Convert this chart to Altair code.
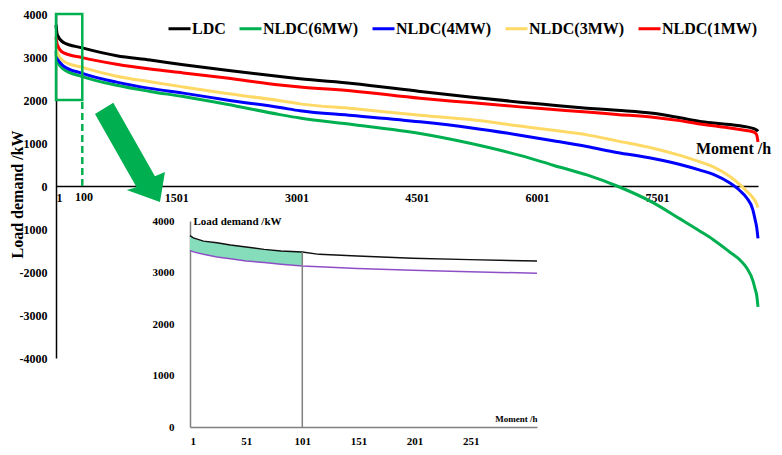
import altair as alt
import pandas as pd

FONT = "Liberation Serif"

# ---------------- data: main load duration curves ----------------
hours = [1, 17, 92, 329, 758, 1174, 1589, 2131, 2795, 3044, 3700, 4543, 5166, 5790,
         6205, 6625, 7000, 7450, 7787, 8036, 8203, 8410, 8535, 8618, 8697, 8722, 8745, 8760]
ldc = [3750, 3515, 3340, 3212, 3030, 2930, 2820, 2690, 2545, 2492, 2385, 2200, 2070, 1950,
       1880, 1810, 1760, 1690, 1585, 1500, 1465, 1430, 1400, 1375, 1340, 1320, 1300, 1270]
nldc_1mw = [3460, 3288, 3100, 2985, 2833, 2720, 2630, 2510, 2350, 2303, 2210, 2040, 1940, 1840,
            1780, 1720, 1665, 1600, 1520, 1440, 1400, 1350, 1315, 1290, 1260, 1240, 1180, 1023]
nldc_3mw = [3250, 3098, 2909, 2758, 2553, 2424, 2303, 2150, 1985, 1910, 1800, 1644, 1545, 1394,
            1295, 1189, 1050, 879, 711, 560, 447, 220, 30, -120, -273, -340, -420, -500]
nldc_4mw = [3136, 2985, 2795, 2621, 2416, 2270, 2160, 2000, 1825, 1750, 1640, 1493, 1356, 1182,
            1053, 917, 780, 640, 500, 370, 270, 68, -110, -273, -560, -765, -980, -1220]
nldc_6mw = [3061, 2900, 2720, 2545, 2341, 2200, 2080, 1900, 1660, 1580, 1430, 1220, 993, 711,
            484, 257, 0, -386, -765, -1050, -1250, -1540, -1720, -1902, -2205, -2380, -2560, -2811]

series_names = ["LDC", "NLDC(6MW)", "NLDC(4MW)", "NLDC(3MW)", "NLDC(1MW)"]
series_colors = ["#000000", "#00B050", "#0000FF", "#FFD966", "#FF0000"]

x_tick_values = [1, 1501, 3001, 4501, 6001, 7501]
y_tick_values = [-4000, -3000, -2000, -1000, 0, 1000, 2000, 3000, 4000]

# ---------------- data: inset (first ~300 hours) ----------------
ins_hours = [1, 4, 13, 25, 37, 51, 67, 82, 101, 116, 150, 199, 250, 310]
ins_ldc = [3718, 3673, 3609, 3577, 3532, 3494, 3449, 3417, 3397, 3352, 3321, 3276, 3250, 3224]
ins_nldc = [3429, 3400, 3353, 3301, 3269, 3224, 3192, 3160, 3128, 3110, 3077, 3045, 3013, 2987]
ins_x_ticks = [1, 51, 101, 151, 201, 251]
ins_y_ticks = [0, 1000, 2000, 3000, 4000]
ins_cut_hour = 101

# ---------------- annotations (in data units) ----------------
zoom_box = pd.DataFrame([{"hour": 1, "hour2": 329, "load": 2000, "load2": 4000}])
dash_line = pd.DataFrame([{"hour": 329, "load": 0, "load2": 2000}])
label_100 = pd.DataFrame([{"hour": 350, "load": 0, "text": "100"}])
arrow_pos = pd.DataFrame([{"hour": 924, "load": 790}])
ARROW = ("M-0.70,-0.76 L-0.334,-0.986 L0.50,0.484 L0.70,0.40 L0.60,1.0 "
         "L-0.066,0.76 L0.132,0.704 Z")

rows = []
for name, vals in zip(series_names, [ldc, nldc_6mw, nldc_4mw, nldc_3mw, nldc_1mw]):
    for h, v in zip(hours, vals):
        rows.append({"hour": h, "load": v, "series": name})
main_df = pd.DataFrame(rows)

ins_df = pd.DataFrame({"hour": ins_hours, "ldc": ins_ldc, "nldc": ins_nldc})
ins_fill = ins_df[ins_df["hour"] <= ins_cut_hour]
ins_rule = pd.DataFrame([{"hour": ins_cut_hour, "load": 0,
                          "load2": ins_ldc[ins_hours.index(ins_cut_hour)]}])

W, H = 702, 344
GREEN = "#00B050"

x_main = alt.X(
    "hour:Q",
    scale=alt.Scale(domain=[1, 8760], nice=False, zero=False),
    axis=alt.Axis(
        orient="bottom", offset=-H / 2, values=x_tick_values,
        labelExpr="'' + datum.value", ticks=False, grid=False,
        domainColor="black", domainWidth=1.5,
        labelFont=FONT, labelFontSize=12, labelFontWeight="bold", labelColor="black",
        labelPadding=6,
        title="Moment /h", titleFont=FONT, titleFontSize=16, titleFontWeight="bold",
        titleColor="black", titleX=677, titleY=-38, titleAlign="center",
        titleBaseline="middle",
    ),
)
y_main = alt.Y(
    "load:Q",
    scale=alt.Scale(domain=[-4000, 4000], nice=False),
    axis=alt.Axis(
        values=y_tick_values, labelExpr="'' + datum.value", ticks=False, grid=False,
        domainColor="black", domainWidth=1.5,
        labelFont=FONT, labelFontSize=12, labelFontWeight="bold", labelColor="black",
        labelPadding=9,
        title="Load demand /kW", titleFont=FONT, titleFontSize=16,
        titleFontWeight="bold", titleColor="black", titleX=-39, titleY=180,
        titleAngle=270, titleAlign="center", titleBaseline="middle",
    ),
)

lines = alt.Chart(main_df).mark_line(strokeWidth=3, interpolate="monotone").encode(
    x=x_main,
    y=y_main,
    color=alt.Color(
        "series:N",
        scale=alt.Scale(domain=series_names, range=series_colors),
        legend=alt.Legend(
            orient="none", legendX=102, legendY=2, direction="horizontal",
            title=None, symbolType="stroke", symbolStrokeWidth=3, symbolSize=484,
            symbolOffset=9,
            labelFont=FONT, labelFontSize=16, labelFontWeight="bold",
            labelColor="black", labelOffset=0, columnPadding=3, padding=0,
        ),
    ),
)

box = alt.Chart(zoom_box).mark_rect(
    filled=False, stroke=GREEN, strokeWidth=2.5
).encode(x=x_main, x2="hour2:Q", y=y_main, y2="load2:Q")

dash = alt.Chart(dash_line).mark_rule(
    color=GREEN, strokeWidth=2.5, strokeDash=[7, 4]
).encode(x=x_main, y=y_main, y2="load2:Q")

lab100 = alt.Chart(label_100).mark_text(
    font=FONT, fontSize=12, fontWeight="bold", color="black",
    baseline="top", align="center", dy=6
).encode(x=x_main, y=y_main, text="text:N")

arrow = alt.Chart(arrow_pos).mark_point(
    shape=ARROW, filled=True, size=10000, color=GREEN, opacity=1, strokeWidth=0
).encode(x=x_main, y=y_main)

main = alt.layer(lines, box, dash, lab100, arrow)

# ---------------- inset ----------------
GRAY = "#808080"
INS_X0, INS_X1 = 134, 481
INS_Y0, INS_Y1 = 413, 207
x_ins = alt.X(
    "hour:Q",
    scale=alt.Scale(domain=[1, 310], range=[INS_X0, INS_X1], nice=False, zero=False),
    axis=alt.Axis(
        orient="bottom", offset=INS_Y0 - H, values=ins_x_ticks,
        labelExpr="'' + datum.value",
        ticks=False, grid=False, domainColor=GRAY, domainWidth=1.5,
        labelFont=FONT, labelFontSize=11, labelFontWeight="bold", labelColor="black",
        labelPadding=8,
        title="Moment /h", titleFont=FONT, titleFontSize=9, titleFontWeight="bold",
        titleColor="black", titleX=INS_X1, titleY=-9, titleAlign="right",
        titleBaseline="middle",
    ),
)
ins_scale_y = alt.Scale(domain=[0, 4000], range=[INS_Y0, INS_Y1], nice=False)
ins_axis_y = alt.Axis(
    orient="left", offset=-INS_X0, values=ins_y_ticks, labelExpr="'' + datum.value",
    ticks=False, grid=False, domainColor=GRAY, domainWidth=1.5,
    labelFont=FONT, labelFontSize=11, labelFontWeight="bold", labelColor="black",
    labelPadding=16,
    title="Load demand /kW", titleFont=FONT, titleFontSize=11, titleFontWeight="bold",
    titleColor="black", titleX=3, titleY=INS_Y1, titleAngle=0, titleAlign="left",
    titleBaseline="middle",
)

ins_area = alt.Chart(ins_fill).mark_area(color="#86DDBB", opacity=1).encode(
    x=x_ins,
    y=alt.Y("ldc:Q", scale=ins_scale_y, axis=ins_axis_y),
    y2="nldc:Q",
)
ins_line_ldc = alt.Chart(ins_df).mark_line(color="#111111", strokeWidth=1.5).encode(
    x=x_ins, y=alt.Y("ldc:Q", scale=ins_scale_y, axis=ins_axis_y)
)
ins_line_nldc = alt.Chart(ins_df).mark_line(color="#8E4FC6", strokeWidth=1.5).encode(
    x=x_ins, y=alt.Y("nldc:Q", scale=ins_scale_y, axis=ins_axis_y)
)
ins_vrule = alt.Chart(ins_rule).mark_rule(color=GRAY, strokeWidth=1.5).encode(
    x=x_ins, y=alt.Y("load:Q", scale=ins_scale_y, axis=ins_axis_y), y2="load2:Q"
)

inset = alt.layer(ins_area, ins_line_nldc, ins_line_ldc, ins_vrule)

chart = (
    alt.layer(main, inset)
    .resolve_scale(x="independent", y="independent")
    .properties(
        width=W, height=H,
        padding={"left": 48, "top": 6, "right": 16, "bottom": 89},
        autosize=alt.AutoSizeParams(type="none"),
    )
    .configure_view(strokeWidth=0)
)

chart.save("out.html", embed_options={"renderer": "svg", "actions": False})
